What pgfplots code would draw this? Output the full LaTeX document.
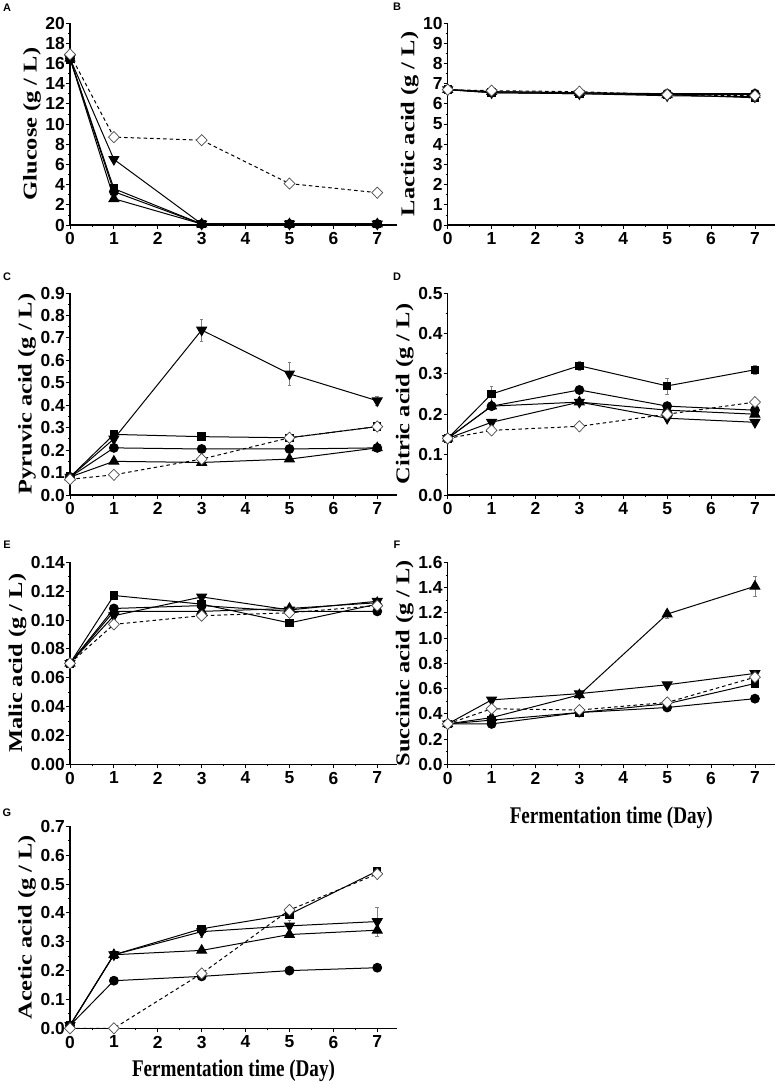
\documentclass[border=0pt]{standalone}
\usepackage{fontspec}
\setmainfont{Liberation Serif}
\newfontfamily\arialf{Liberation Sans}
\usepackage{graphicx}
\usepackage{pgfplots}
\usepackage{pgfplotstable}
\pgfplotsset{compat=1.18}

% columns: sq = filled square, ci = filled circle, up = up triangle, dn = down triangle, di = open diamond (dashed)
\pgfplotstableread{
x sq ci up dn di
0 16.5 16.5 16.5 16.5 16.9
1 3.6 3.3 2.6 6.5 8.7
3 0.1 0.1 0.1 0.1 8.4
5 0.1 0.1 0.1 0.1 4.1
7 0.1 0.1 0.1 0.1 3.2
}\tabA
\pgfplotstableread{
x sq ci up dn di
0 6.7 6.7 6.7 6.7 6.7
1 6.55 6.6 6.6 6.55 6.65
3 6.5 6.55 6.55 6.5 6.6
5 6.45 6.5 6.45 6.4 6.45
7 6.3 6.5 6.45 6.35 6.4
}\tabB
\pgfplotstableread{
x sq ci up dn di edn
0 0.08 0.08 0.08 0.08 0.07 0
1 0.27 0.21 0.15 0.25 0.09 0.01
3 0.26 0.205 0.145 0.735 0.16 0.05
5 0.255 0.205 0.16 0.54 0.255 0.05
7 0.305 0.21 0.21 0.42 0.305 0.02
}\tabC
\pgfplotstableread{
x sq ci up dn di esq
0 0.14 0.14 0.14 0.14 0.14 0
1 0.25 0.22 0.22 0.18 0.16 0.02
3 0.32 0.26 0.23 0.23 0.17 0.01
5 0.27 0.22 0.21 0.19 0.20 0.02
7 0.31 0.21 0.20 0.18 0.23 0.01
}\tabD
\pgfplotstableread{
x sq ci up dn di
0 0.070 0.070 0.070 0.070 0.070
1 0.117 0.108 0.106 0.103 0.097
3 0.111 0.110 0.106 0.116 0.103
5 0.098 0.106 0.108 0.107 0.105
7 0.111 0.106 0.112 0.113 0.110
}\tabE
\pgfplotstableread{
x sq ci up dn di eup
0 0.32 0.32 0.32 0.32 0.32 0
1 0.35 0.32 0.37 0.51 0.44 0.01
3 0.41 0.41 0.55 0.56 0.43 0.03
5 0.48 0.45 1.19 0.63 0.49 0.03
7 0.64 0.52 1.41 0.72 0.69 0.08
}\tabF
\pgfplotstableread{
x sq ci up dn di edn
0 0.01 0.01 0.01 0.01 0.00 0
1 0.255 0.165 0.255 0.255 0.00 0.01
3 0.345 0.18 0.27 0.335 0.19 0.02
5 0.395 0.20 0.325 0.355 0.41 0.02
7 0.545 0.21 0.34 0.37 0.535 0.05
}\tabG

\newcommand\yl[1]{\scalebox{1}[0.8]{#1}}
\newcommand\xl[1]{\scalebox{0.8}[1]{#1}}

\pgfplotsset{
 panel/.style={
  scale only axis, width=327bp, height=202bp,
  xmin=0, xmax=7.45, ymin=0,
  axis x line*=bottom, axis y line*=left,
  axis line style={line width=1.2bp},
  xtick={0,...,7}, minor x tick num=1, minor y tick num=1,
  tick align=outside, major tick length=4bp, minor tick length=2bp,
  every tick/.style={black, line width=0.8bp},
  ticklabel style={font=\arialf\bfseries\fontsize{17.5}{17.5}\selectfont},
  yticklabel style={inner sep=1bp},
  /pgf/number format/assume math mode=true,
  ylabel style={font=\bfseries\fontsize{24.5}{24.5}\selectfont},
  xlabel style={font=\bfseries\fontsize{24}{24}\selectfont},
  clip=false,
 },
 ln/.style={black, line width=1bp},
 sq/.style={ln, mark=square*, mark size=3.7bp, mark options={solid, fill=black}},
 ci/.style={ln, mark=*, mark size=4.4bp, mark options={solid, fill=black}},
 up/.style={ln, mark=triangle*, mark size=5.6bp, mark options={solid, fill=black}},
 dn/.style={ln, mark=triangle*, mark size=5.6bp, mark options={solid, fill=black, rotate=180}},
 di/.style={black, line width=1bp, dash pattern=on 3.5bp off 3bp, mark=diamond*, mark size=5.6bp, mark options={solid, fill=white, draw=black!70, line width=0.7bp, xscale=1.3}},
 eb/.style={draw=none, forget plot, error bars/.cd, y dir=both, y explicit,
   error bar style={draw=black!50, line width=0.5bp},
   error mark options={draw=black!50, line width=0.5bp, mark size=1.8bp, rotate=90}},
}
\newcommand\five[1]{%
 \addplot[up] table[x=x,y=up]{#1};
 \addplot[dn] table[x=x,y=dn]{#1};
 \addplot[sq] table[x=x,y=sq]{#1};
 \addplot[ci] table[x=x,y=ci]{#1};
 \addplot[di] table[x=x,y=di]{#1};
}

\begin{document}
\begin{tikzpicture}
\useasboundingbox (0,0) rectangle (780bp,-1082bp);
\tikzset{lett/.style={font=\arialf\bfseries\fontsize{11}{11}\selectfont, inner sep=0pt}}
\node[lett] at (7bp,-8bp) {A};
\node[lett] at (397bp,-7bp) {B};
\node[lett] at (7bp,-277bp) {C};
\node[lett] at (397bp,-277bp) {D};
\node[lett] at (7bp,-545bp) {E};
\node[lett] at (397bp,-545bp) {F};
\node[lett] at (7bp,-813bp) {G};

% A
\begin{axis}[panel, at={(70bp,-225bp)}, anchor=south west,
  ymax=20, ytick={0,2,...,20}, ylabel={\yl{Glucose (g / L)}}]
\five{\tabA}
\end{axis}
% B
\begin{axis}[panel, at={(447.7bp,-225bp)}, anchor=south west,
  ymax=10, ytick={0,1,...,10}, minor y tick num=1, ylabel={\yl{Lactic acid (g / L)}}]
\five{\tabB}
\end{axis}
% C
\begin{axis}[panel, at={(70bp,-495bp)}, anchor=south west,
  ymax=0.9, ytick={0,0.1,...,0.91},
  yticklabel style={/pgf/number format/.cd, fixed, fixed zerofill, precision=1},
  ylabel={\yl{Pyruvic acid (g / L)}}]
\addplot[eb] table[x=x,y=dn,y error=edn]{\tabC};
\five{\tabC}
\end{axis}
% D
\begin{axis}[panel, at={(447.7bp,-495bp)}, anchor=south west,
  ymax=0.5, ytick={0,0.1,...,0.51},
  yticklabel style={/pgf/number format/.cd, fixed, fixed zerofill, precision=1},
  ylabel={\yl{Citric acid (g / L)}}]
\addplot[eb] table[x=x,y=sq,y error=esq]{\tabD};
\five{\tabD}
\end{axis}
% E
\begin{axis}[panel, at={(70bp,-764.3bp)}, anchor=south west,
  ymax=0.14, ytick={0,0.02,...,0.141},
  yticklabel style={/pgf/number format/.cd, fixed, fixed zerofill, precision=2},
  ylabel={\yl{Malic acid (g / L)}}]
\five{\tabE}
\end{axis}
% F
\begin{axis}[panel, at={(447.7bp,-764.3bp)}, anchor=south west,
  ymax=1.6, ytick={0,0.2,...,1.61},
  yticklabel style={/pgf/number format/.cd, fixed, fixed zerofill, precision=1},
  ylabel={\yl{Succinic acid (g / L)}},
  xlabel={\xl{Fermentation time (Day)}}, xlabel style={yshift=-16bp}]
\addplot[eb] table[x=x,y=up,y error=eup]{\tabF};
\five{\tabF}
\end{axis}
% G
\begin{axis}[panel, at={(70bp,-1028.3bp)}, anchor=south west,
  ymax=0.7, ytick={0,0.1,...,0.71},
  yticklabel style={/pgf/number format/.cd, fixed, fixed zerofill, precision=1},
  ylabel={\yl{Acetic acid (g / L)}},
  xlabel={\xl{Fermentation time (Day)}}, xlabel style={yshift=-5bp}]
\addplot[eb] table[x=x,y=dn,y error=edn]{\tabG};
\five{\tabG}
\end{axis}
\end{tikzpicture}
\end{document}
